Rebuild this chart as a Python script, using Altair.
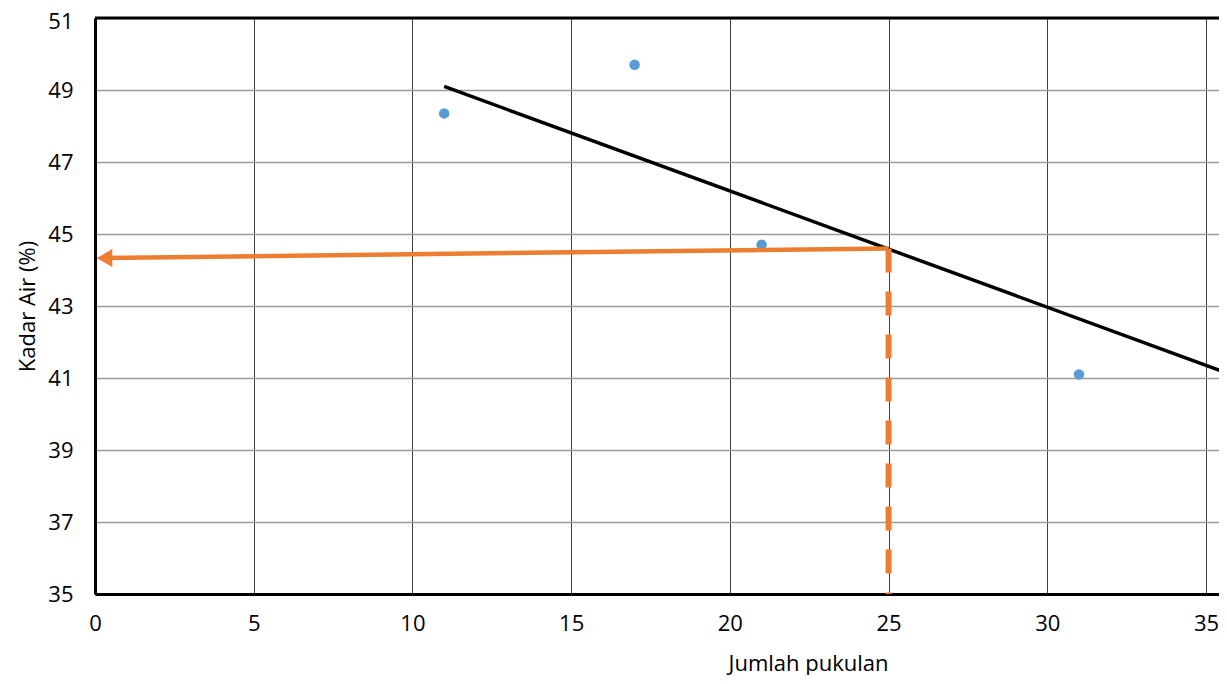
import altair as alt
import pandas as pd

# data
x_pts = [11, 17, 21, 31]
y_pts = [48.35, 49.7, 44.7, 41.1]
trend_x = [11, 35.66]
trend_y = [49.1, 41.14]
arrow_x = [25, 0.3]
arrow_y = [44.6, 44.33]
drop_x = [25, 25]
drop_y = [44.6, 35]
x_ticks = [0, 5, 10, 15, 20, 25, 30, 35]
y_ticks = [35, 37, 39, 41, 43, 45, 47, 49, 51]

ORANGE = "#ED7D31"
BLUE = "#5B9BD5"
FONT = "Open Sans"

xs = alt.Scale(domain=[0, 35.41], nice=False, zero=False)
ys = alt.Scale(domain=[35, 51], nice=False, zero=False)

pts = pd.DataFrame({"x": x_pts, "y": y_pts})
trend = pd.DataFrame({"x": trend_x, "y": trend_y, "o": [0, 1]})
arrow = pd.DataFrame({"x": arrow_x, "y": arrow_y, "o": [0, 1]})
drop = pd.DataFrame({"x": drop_x, "y": drop_y, "o": [0, 1]})
head = pd.DataFrame({"x": [arrow_x[1]], "y": [arrow_y[1]]})
top = pd.DataFrame({"y": [y_ticks[-1]]})

x_axis = alt.Axis(values=x_ticks, title="Jumlah pukulan", ticks=False,
                  labelPadding=19, labelFlush=False, grid=True, gridColor="#404040", gridWidth=1,
                  domainColor="black", domainWidth=3,
                  titleX=713, titleY=69, titleBaseline="middle", titleFontWeight="normal")
y_axis = alt.Axis(values=y_ticks, title="Kadar Air (%)", ticks=False,
                  labelPadding=22, labelFlush=False, grid=True, gridColor="#9a9a9a", gridWidth=1.5,
                  labelOffset={"condition": {"test": "datum.value == 51", "value": 3}, "value": 0},
                  domainColor="black", domainWidth=3,
                  titleX=-68, titleY=288, titleBaseline="middle", titleFontWeight="normal")

X = alt.X("x:Q", scale=xs, axis=x_axis)
Y = alt.Y("y:Q", scale=ys, axis=y_axis)

points = alt.Chart(pts).mark_circle(size=110, color=BLUE, opacity=1).encode(x=X, y=Y)

trend_line = alt.Chart(trend).mark_line(color="black", strokeWidth=3.5, clip=True).encode(
    x=X, y=Y, order="o:Q")

arrow_line = alt.Chart(arrow).mark_line(color=ORANGE, strokeWidth=4.5).encode(
    x=X, y=Y, order="o:Q")

drop_line = alt.Chart(drop).mark_line(color=ORANGE, strokeWidth=6, strokeDash=[24, 19]).encode(
    x=X, y=Y, order="o:Q")

arrow_head = alt.Chart(head).mark_point(shape="triangle-left", filled=True, size=324,
                                         color=ORANGE, opacity=1).encode(x=X, y=Y)

top_border = alt.Chart(top).mark_rule(color="black", strokeWidth=3).encode(y=Y)

chart = alt.layer(points, trend_line, arrow_line, drop_line, arrow_head, top_border).properties(
    width=1124, height=576,
    autosize=alt.AutoSizeParams(type="none"),
    padding={"left": 87, "top": 10, "right": 0, "bottom": 81},
).configure_view(stroke=None).configure_axis(
    labelFont=FONT, titleFont=FONT, labelFontSize=22, titleFontSize=22,
    labelColor="black", titleColor="black",
)

chart.save("out.html", embed_options={"renderer": "svg", "actions": False})
